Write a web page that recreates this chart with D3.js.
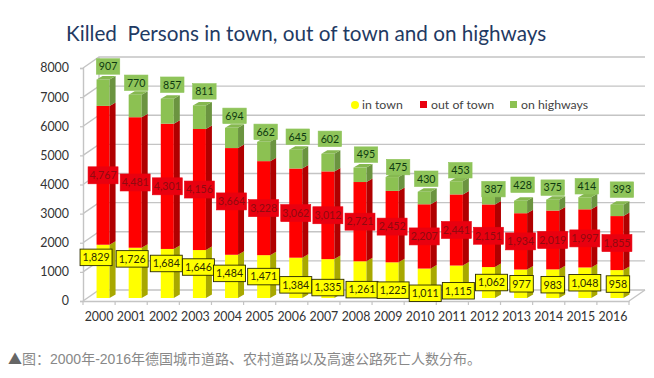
<!DOCTYPE html>
<html><head><meta charset="utf-8">
<script src="https://cdnjs.cloudflare.com/ajax/libs/d3/7.8.5/d3.min.js"></script>
<style>
html,body{margin:0;padding:0;background:#fff;overflow:hidden}
svg{display:block}
text{font-family:Lato,"Noto Sans",sans-serif}
</style></head><body>
<svg id="c" width="654" height="378"></svg>
<script>
const years = [2000,2001,2002,2003,2004,2005,2006,2007,2008,2009,2010,2011,2012,2013,2014,2015,2016];
const inTown = [1829,1726,1684,1646,1484,1471,1384,1335,1261,1225,1011,1115,1062,977,983,1048,958];
const outOfTown = [4767,4481,4301,4156,3664,3228,3062,3012,2721,2452,2207,2441,2151,1934,2019,1997,1855];
const onHighways = [907,770,857,811,694,662,645,602,495,475,430,453,387,428,375,414,393];
const seriesNames = ["in town","out of town","on highways"];
const yTicks = [0,1000,2000,3000,4000,5000,6000,7000,8000];
const titleText = "Killed  Persons in town, out of town and on highways";
const captionMark = "▲";
const captionText = "图：2000年-2016年德国城市道路、农村道路以及高速公路死亡人数分布。";

// hand placement of the data labels, in pixels, relative to their default anchor
const inTownNudgeX = [-7,-3,-1,-1,-2,0,0,0,2,1,1,2,3,1,0,0,1];
const inTownNudgeY = [-14,-14,-10,-7,-3,0,7,9,10,10,10,9,0,0,1,0,0];
const highwayNudgeX = [5,1,5,5,3,2,2,2,6,6,2,4,5,2,0,2,5];
const highwayNudgeY = [-13,-12,-14,-14,-12,-10,-13,-15,-13,-10,-13,-11,-4,-16,-12,-11,-15];

const front = ["#ffff00","#ff0000","#8cc152"];
const side = ["#a8a800","#b00000","#6b9440"];
const top_ = ["#e0e000","#d00000","#86b850"];
const labelFill = ["#ffff00","#e9000f","#8fc45a"];
const labelStroke = ["#2a2a00","#e9000f","#8fc45a"];
const labelText = ["#2b2b00","#900a10","#0e3a10"];
const gridC = "#c4c4c4";

const svg = d3.select("#c");
const wallDx = 16, wallDy = -11, barDx = 4, barDy = -3, depthX = 6, depthY = 3.5;

const x = d3.scaleBand().domain(years).range([83,629]).paddingInner(0.595).paddingOuter(0.2975);
const y = d3.scaleLinear().domain([0,8000]).range([301,68]);

// walls and gridlines
const grid = svg.append("g").attr("stroke",gridC).attr("stroke-width",1.4).attr("fill","none");
yTicks.forEach(t=>{
  const v=y(t);
  grid.append("path").attr("d",`M83,${v}L${83+wallDx},${v+wallDy}L${629+wallDx},${v+wallDy}`);
});
grid.append("line").attr("x1",83+wallDx).attr("x2",83+wallDx).attr("y1",y(8000)+wallDy).attr("y2",y(0)+wallDy);
grid.append("path").attr("d",`M629,${y(0)}L${629+wallDx},${y(0)+wallDy}`);

// axes
const yAxis = d3.axisLeft(y).tickValues(yTicks).tickFormat(d3.format("d")).tickSize(3).tickPadding(11);
const gy = svg.append("g").attr("transform","translate(83,0)").call(yAxis);
const xAxis = d3.axisBottom(x).tickSize(0).tickPadding(11);
const gx = svg.append("g").attr("transform",`translate(0,${y(0)})`).call(xAxis);
[gy,gx].forEach(g=>{
  g.selectAll(".domain").attr("stroke",gridC).attr("stroke-width",1.4);
  g.selectAll("line").attr("stroke",gridC).attr("stroke-width",1.2);
  g.selectAll("text").attr("fill","#333").style("font-family","Lato").style("font-size","12.4px");
});
gx.selectAll(".bt").data(d3.range(years.length+1)).enter().append("line")
  .attr("x1",i=>83+i*x.step()).attr("x2",i=>83+i*x.step()).attr("y1",0).attr("y2",4)
  .attr("stroke",gridC).attr("stroke-width",1.2);

// stacked 3D bars
const rows = years.map((yr,i)=>({year:yr,a:inTown[i],b:outOfTown[i],c:onHighways[i]}));
const stacked = d3.stack().keys(["a","b","c"])(rows);
const bars = svg.append("g");
years.forEach((yr,i)=>{
  const g = bars.append("g");
  const x0 = x(yr)+barDx, w = x.bandwidth();
  stacked.forEach((s,k)=>{
    const yb = y(s[i][0])+barDy, yt = y(s[i][1])+barDy;
    g.append("rect").attr("x",x0).attr("y",yt).attr("width",w).attr("height",yb-yt).attr("fill",front[k]);
    g.append("path").attr("fill",side[k])
      .attr("d",`M${x0+w},${yb}L${x0+w+depthX},${yb-depthY}L${x0+w+depthX},${yt-depthY}L${x0+w},${yt}Z`);
    if(k===2) g.append("path").attr("fill",top_[k])
      .attr("d",`M${x0},${yt}L${x0+depthX},${yt-depthY}L${x0+w+depthX},${yt-depthY}L${x0+w},${yt}Z`);
  });
});

// data labels
const fmt = d3.format(",");
const labels = svg.append("g");
function label(cx,cy,val,k,padX,h){
  const g = labels.append("g").attr("transform",`translate(${cx},${cy})`);
  const r = g.append("rect");
  const t = g.append("text").attr("text-anchor","middle").attr("dy","0.36em")
    .attr("font-size",10.6).attr("fill",labelText[k]).text(fmt(val));
  const tw = t.node().getComputedTextLength();
  r.attr("x",-tw/2-padX).attr("y",-h/2).attr("width",tw+2*padX).attr("height",h)
    .attr("fill",labelFill[k]).attr("stroke",labelStroke[k]).attr("stroke-width",k===0?0.9:0.6);
}
years.forEach((yr,i)=>{
  const c = x(yr)+barDx+x.bandwidth()/2;
  label(c+inTownNudgeX[i], y(stacked[0][i][1]/2)+barDy+inTownNudgeY[i], inTown[i],0,2.5,16.5);
});
years.forEach((yr,i)=>{
  const c = x(yr)+barDx+x.bandwidth()/2;
  label(c, y((stacked[1][i][0]+stacked[1][i][1])/2)+barDy, outOfTown[i],1,1.5,17);
});
years.forEach((yr,i)=>{
  const c = x(yr)+barDx+x.bandwidth()/2;
  label(c+highwayNudgeX[i], y(stacked[2][i][1])+barDy+highwayNudgeY[i], onHighways[i],2,2.5,15.5);
});

// legend
const legX = [351,420,510], legT = [362,431,521];
seriesNames.forEach((n,k)=>{
  if(k===0) svg.append("circle").attr("cx",legX[k]+4).attr("cy",105).attr("r",4).attr("fill",front[k]);
  else svg.append("rect").attr("x",legX[k]).attr("y",101).attr("width",7).attr("height",7).attr("fill",k===1?"#e9000f":front[k]);
  svg.append("text").attr("x",legT[k]).attr("y",109).attr("font-size",12.3).attr("fill","#444").text(n);
});

// title and caption
svg.append("text").attr("x",66).attr("y",41).attr("font-size",20.7).attr("fill","#1f3a63").style("white-space","pre").text(titleText);
const cap = svg.append("text").attr("x",8).attr("y",364).attr("font-size",14)
  .style("font-family",'"Liberation Sans","Noto Sans CJK SC",sans-serif');
cap.append("tspan").attr("fill","#666").style("font-family",'"Noto Sans CJK SC"').text(captionMark);
cap.append("tspan").attr("fill","#888").text(captionText);
</script>
</body></html>
